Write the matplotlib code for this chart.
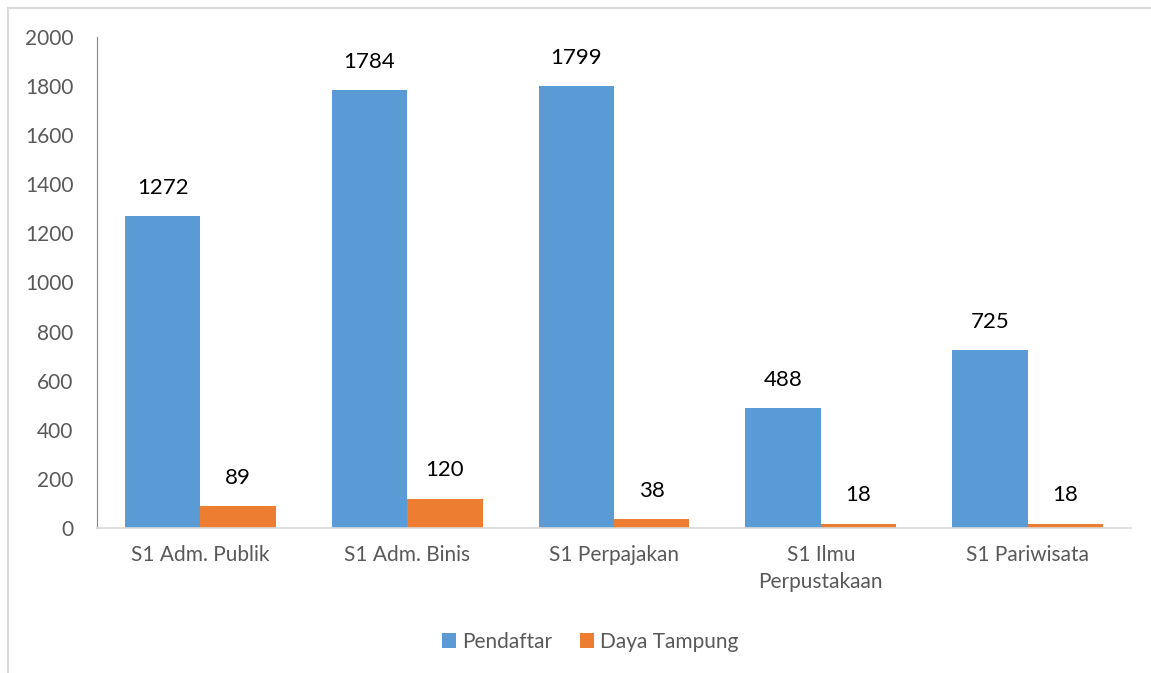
import matplotlib as mpl
import matplotlib.pyplot as plt
import numpy as np
from matplotlib.patches import Rectangle

mpl.use('Agg')
plt.rcParams['font.family'] = ['Lato', 'DejaVu Sans']

categories = ["S1 Adm. Publik", "S1 Adm. Binis", "S1 Perpajakan",
              "S1 Ilmu\nPerpustakaan", "S1 Pariwisata"]
pendaftar = [1272, 1784, 1799, 488, 725]
daya_tampung = [89, 120, 38, 18, 18]
yticks = list(range(0, 2001, 200))

blue = "#5B9BD5"
orange = "#ED7D31"
gray = "#595959"

fig = plt.figure(figsize=(11.51, 6.73), dpi=100)
ax = fig.add_axes([0.0843, 0.2155, 0.8983, 0.7295])

x = np.arange(len(categories))
w = 0.365
b1 = ax.bar(x - w/2, pendaftar, w, color=blue, label="Pendaftar")
b2 = ax.bar(x + w/2, daya_tampung, w, color=orange, label="Daya Tampung")
ax.bar_label(b1, padding=13, fontsize=16, color="black")
ax.bar_label(b2, padding=13, fontsize=16, color="black")

ax.set_xlim(-0.5, len(categories) - 0.5)
ax.set_ylim(0, 2000)
ax.set_yticks(yticks)
ax.set_xticks(x)
ax.set_xticklabels(categories, linespacing=1.45)
ax.tick_params(axis='y', length=0, pad=17, labelsize=15, labelcolor=gray)
ax.tick_params(axis='x', length=0, pad=12, labelsize=15, labelcolor=gray)

for s in ["top", "right"]:
    ax.spines[s].set_visible(False)
ax.spines["left"].set_color("#868686")
ax.spines["bottom"].set_color("#D9D9D9")
ax.spines["bottom"].set_linewidth(1.2)

ax.legend(loc="center", bbox_to_anchor=(0.477, -0.232), ncol=2, frameon=False,
          fontsize=15, labelcolor=gray, handlelength=0.7, handleheight=0.7,
          handletextpad=0.3, columnspacing=1.3)

# chart area border
fig.patches.append(Rectangle((8/1151, -0.1), 1.2, 1 - 8/673 + 0.1,
                             transform=fig.transFigure, fill=False,
                             edgecolor="#D9D9D9", linewidth=1.5))

plt.savefig("out.png", dpi=100)
